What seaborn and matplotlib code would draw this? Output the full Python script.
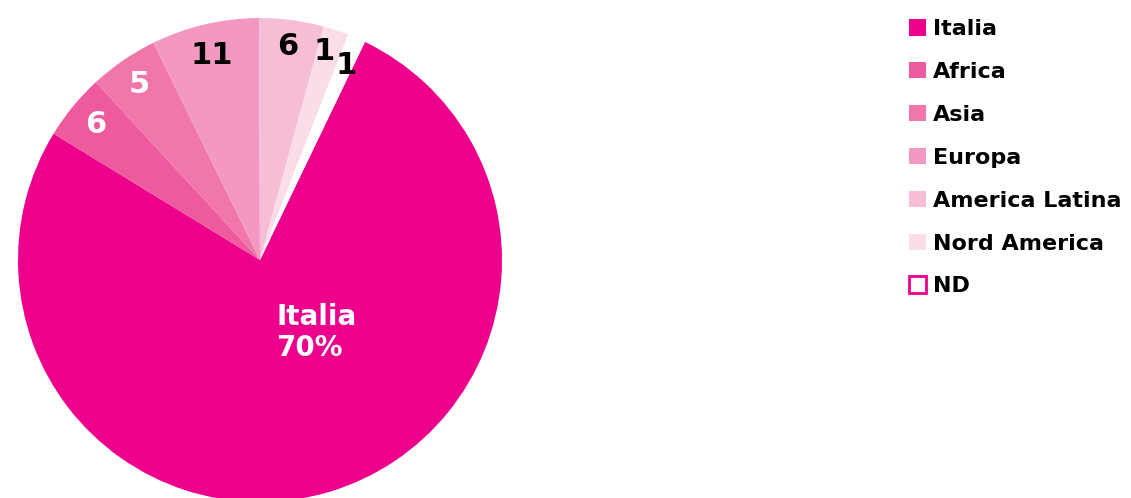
import numpy as np
import matplotlib
matplotlib.use("Agg")
import matplotlib.pyplot as plt
import seaborn as sns
from matplotlib.patches import Patch

sns.set_style("white")
plt.rcParams['font.family'] = ['DejaVu Sans']

# Data
regions = ["Italia", "Africa", "Asia", "Europa", "America Latina", "Nord America", "ND"]
# slice sizes as drawn in the picture (the labels are not to scale)
shares = [76.6, 4.4, 4.6, 7.2, 4.3, 1.7, 1.2]
labels = ["Italia\n70%", "6", "5", "11", "6", "1", "1"]

colors = ["#EC008C", "#EE5A9E", "#F176AA", "#F399C1", "#F7BDD7", "#FBDDEA", "#FFFFFF"]
label_colors = ["white", "white", "white", "black", "black", "black", "black"]

fig = plt.figure(figsize=(11.31, 4.98), dpi=100)
ax = fig.add_axes([0, 0, 1, 1])

cx, cy, r = 260, 238, 242
wedges, _ = ax.pie(
    shares,
    colors=colors,
    startangle=64.3,
    counterclock=False,
    center=(cx, cy),
    radius=r,
    wedgeprops=dict(linewidth=0),
    frame=True,
)

ax.set_xlim(0, 1131)
ax.set_ylim(0, 498)
ax.set_aspect("equal")
ax.axis("off")

# Slice labels
label_dist = [0.37, 0.88, 0.88, 0.87, 0.89, 0.90, 0.88]
label_turn = [19.5, 0, 0, 0, 0, 1.3, -0.3]
for w, txt, col, d, t in zip(wedges, labels, label_colors, label_dist, label_turn):
    ang = np.deg2rad((w.theta1 + w.theta2) / 2 + t)
    x = cx + d * r * np.cos(ang)
    y = cy + d * r * np.sin(ang)
    if txt.startswith("Italia"):
        ax.text(x + 4, y, txt, color=col, fontsize=20, fontweight="bold",
                ha="center", va="center", multialignment="left", linespacing=1.1)
    else:
        ax.text(x, y, txt, color=col, fontsize=22, fontweight="heavy",
                ha="center", va="center")

# Legend
handles = []
for reg, c in zip(regions, colors):
    if reg == "ND":
        handles.append(Patch(facecolor="white", edgecolor="#EC008C", linewidth=2, label=reg))
    else:
        handles.append(Patch(facecolor=c, edgecolor="none", label=reg))

fig.legend(
    handles=handles,
    loc="upper left",
    bbox_to_anchor=(909 / 1131, 1 - 19 / 498),
    frameon=False,
    prop=dict(size=16, weight="bold"),
    labelcolor="black",
    handlelength=0.77,
    handleheight=0.77,
    handletextpad=0.3,
    labelspacing=1.03,
    borderpad=0,
    borderaxespad=0,
)

plt.savefig("out.png", dpi=100)
